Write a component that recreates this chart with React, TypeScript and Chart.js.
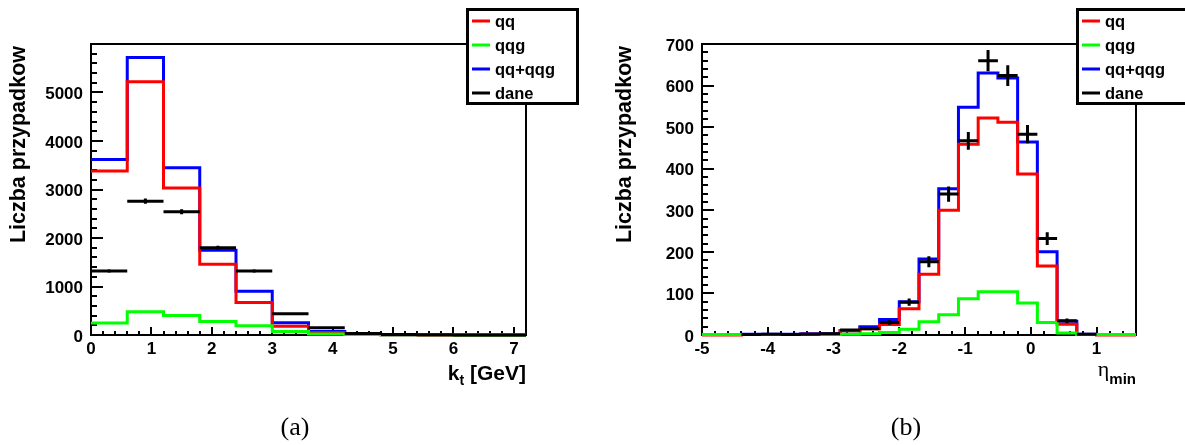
import React, { useEffect, useRef } from "react";
import { Chart, registerables } from "chart.js";
Chart.register(...registerables);

// ---------- data: panel (a) k_t ----------
const ktEdges = [0, 0.6, 1.2, 1.8, 2.4, 3.0, 3.6, 4.2, 4.8, 5.4, 6.0, 6.6, 7.2];
const ktQQ = [3380, 5220, 3030, 1460, 670, 180, 50, 8, 3, 1, 1, 0];
const ktQQG = [245, 480, 400, 280, 190, 70, 20, 10, 5, 3, 2, 1];
const ktSum = [3620, 5720, 3450, 1750, 900, 255, 70, 18, 6, 3, 2, 1];
const ktDane = [1320, 2760, 2540, 1800, 1320, 440, 150, 30, 10, 4, 2, 1];
const ktXTicks = [0, 1, 2, 3, 4, 5, 6, 7];
const ktYTicks = [0, 1000, 2000, 3000, 4000, 5000];

// ---------- data: panel (b) eta_min ----------
const etaEdges = [-5.0, -4.7, -4.4, -4.1, -3.8, -3.5, -3.2, -2.9, -2.6, -2.3, -2.0, -1.7, -1.4, -1.1, -0.8, -0.5, -0.2, 0.1, 0.4, 0.7, 1.0, 1.3, 1.6];
const etaQQ = [0, 0, 1, 1, 1, 2, 2, 10, 15, 25, 63, 146, 300, 459, 522, 512, 387, 166, 26, 1, 0, 0];
const etaQQG = [1, 1, 1, 1, 1, 1, 1, 2, 3, 6, 14, 32, 49, 87, 104, 104, 77, 30, 5, 1, 1, 1];
const etaSum = [1, 1, 2, 2, 2, 3, 3, 10, 20, 37, 80, 183, 352, 548, 630, 618, 464, 200, 33, 2, 1, 1];
const etaDane = [0, 0, 1, 2, 1, 2, 3, 12, 15, 30, 79, 176, 339, 467, 660, 624, 483, 232, 34, 2, 0, 0];
const etaXTicks = [-5, -4, -3, -2, -1, 0, 1];
const etaYTicks = [0, 100, 200, 300, 400, 500, 600, 700];

const legendLabels = ["qq", "qqg", "qq+qqg", "dane"];
const COLORS = { qq: "#ff0000", qqg: "#00ff00", sum: "#0000ff", dane: "#000000" };

const SANS = '"Liberation Sans", Arial, Helvetica, sans-serif';
const H = 445;

function stepData(edges: number[], vals: number[]) {
  const pts: { x: number; y: number | null }[] = vals.map((v, i) => ({ x: edges[i], y: v }));
  pts.push({ x: edges[edges.length - 1], y: vals[vals.length - 1] });
  return pts;
}

function dataPoints(edges: number[], vals: number[]) {
  const pts: { x: number; y: number | null }[] = [];
  vals.forEach((v, i) => {
    if (v <= 0) return;
    const c = (edges[i] + edges[i + 1]) / 2;
    const e = Math.sqrt(v);
    pts.push({ x: edges[i], y: v }, { x: edges[i + 1], y: v }, { x: c, y: null });
    pts.push({ x: c, y: v - e }, { x: c, y: v + e }, { x: c, y: null });
  });
  return pts;
}

type Part = { t: string; font: string; dy: number };

interface PanelCfg {
  width: number;
  frame: { l: number; t: number; r: number; b: number };
  edges: number[];
  qq: number[];
  qqg: number[];
  sum: number[];
  dane: number[];
  xMin: number;
  xMax: number;
  yMax: number;
  xMajor: number;
  xMinor: number;
  yMajor: number;
  yMinor: number;
  xTicks: number[];
  yTicks: number[];
  legend: { l: number; t: number; r: number; b: number };
  yTitleX: number;
  xTitle: Part[];
  caption: string;
  captionX: number;
}

function isMajor(v: number, step: number) {
  const r = v / step;
  return Math.abs(r - Math.round(r)) < 1e-6;
}

function makePlugin(cfg: PanelCfg) {
  return {
    id: "rootFrame",
    beforeDatasetsDraw(chart: any) {
      const ctx = chart.ctx as CanvasRenderingContext2D;
      const a = chart.chartArea;
      const xs = chart.scales.x;
      const ys = chart.scales.y;
      ctx.save();
      ctx.strokeStyle = "#000";
      ctx.lineWidth = 2;
      ctx.strokeRect(a.left, a.top, a.right - a.left, a.bottom - a.top);
      // y ticks
      const ny = Math.round(cfg.yMax / cfg.yMinor);
      for (let k = 0; k < ny; k++) {
        const v = k * cfg.yMinor;
        const py = Math.round(ys.getPixelForValue(v));
        const len = isMajor(v, cfg.yMajor) ? 12 : 6;
        ctx.beginPath();
        ctx.moveTo(a.left, py);
        ctx.lineTo(a.left + len, py);
        ctx.stroke();
      }
      // x ticks
      const nx = Math.round((cfg.xMax - cfg.xMin) / cfg.xMinor);
      for (let k = 1; k < nx; k++) {
        const v = cfg.xMin + k * cfg.xMinor;
        const px = Math.round(xs.getPixelForValue(v));
        const len = isMajor(v, cfg.xMajor) ? 8 : 4;
        ctx.beginPath();
        ctx.moveTo(px, a.bottom);
        ctx.lineTo(px, a.bottom - len);
        ctx.stroke();
      }
      // tick labels
      ctx.fillStyle = "#000";
      ctx.font = `bold 17px ${SANS}`;
      ctx.textAlign = "right";
      ctx.textBaseline = "middle";
      cfg.yTicks.forEach((v) => {
        ctx.fillText(String(v), a.left - 8, ys.getPixelForValue(v) + 2);
      });
      ctx.textAlign = "center";
      ctx.textBaseline = "top";
      cfg.xTicks.forEach((v) => {
        ctx.fillText(String(v), xs.getPixelForValue(v), a.bottom + 6);
      });
      ctx.restore();
    },
    afterDraw(chart: any) {
      const ctx = chart.ctx as CanvasRenderingContext2D;
      const a = chart.chartArea;
      ctx.save();
      // y title
      ctx.translate(cfg.yTitleX, a.top + 2);
      ctx.rotate(-Math.PI / 2);
      ctx.font = `bold 21.5px ${SANS}`;
      ctx.textAlign = "right";
      ctx.textBaseline = "middle";
      ctx.fillStyle = "#000";
      ctx.fillText("Liczba przypadkow", 0, 0);
      ctx.restore();

      // x title (right aligned to frame)
      ctx.save();
      ctx.fillStyle = "#000";
      ctx.textBaseline = "alphabetic";
      ctx.textAlign = "left";
      let total = 0;
      cfg.xTitle.forEach((p) => {
        ctx.font = p.font;
        total += ctx.measureText(p.t).width;
      });
      let x = a.right - total;
      cfg.xTitle.forEach((p) => {
        ctx.font = p.font;
        ctx.fillText(p.t, x, 380 + p.dy);
        x += ctx.measureText(p.t).width;
      });
      ctx.restore();

      // legend
      const L = cfg.legend;
      ctx.save();
      ctx.fillStyle = "#fff";
      ctx.fillRect(L.l, L.t, L.r - L.l, L.b - L.t);
      ctx.strokeStyle = "#000";
      ctx.lineWidth = 3;
      ctx.strokeRect(L.l + 1.5, L.t + 1.5, L.r - L.l - 3, L.b - L.t - 3);
      const ds = chart.data.datasets;
      const byLabel: Record<string, any> = {};
      ds.forEach((d: any) => (byLabel[d.label] = d));
      ctx.font = `bold 16.5px ${SANS}`;
      ctx.textAlign = "left";
      ctx.textBaseline = "middle";
      legendLabels.forEach((lab, i) => {
        const y = L.t + 13 + i * 24;
        const d = byLabel[lab];
        ctx.strokeStyle = d.borderColor;
        ctx.lineWidth = 3;
        ctx.beginPath();
        ctx.moveTo(L.l + 6, y);
        ctx.lineTo(L.l + 24, y);
        ctx.stroke();
        ctx.fillStyle = "#000";
        ctx.fillText(lab, L.l + 29, y + 1);
      });
      ctx.restore();

      // caption
      ctx.save();
      ctx.fillStyle = "#000";
      ctx.font = `26px "Liberation Serif", "DejaVu Serif", serif`;
      ctx.textAlign = "center";
      ctx.textBaseline = "alphabetic";
      ctx.fillText(cfg.caption, cfg.captionX, 435);
      ctx.restore();
    },
  };
}

function Panel({ cfg, left }: { cfg: PanelCfg; left: number }) {
  const ref = useRef<HTMLCanvasElement | null>(null);
  useEffect(() => {
    const canvas = ref.current;
    if (!canvas) return;
    const line = (label: string, color: string, vals: number[], order: number) => ({
      label,
      data: stepData(cfg.edges, vals),
      stepped: "before" as const,
      borderColor: color,
      backgroundColor: color,
      borderWidth: 3,
      pointRadius: 0,
      fill: false,
      tension: 0,
      clip: false,
      order,
      borderJoinStyle: "miter" as const,
    });
    const chart = new Chart(canvas, {
      type: "line",
      data: {
        datasets: [
          line("qq+qqg", COLORS.sum, cfg.sum, 3),
          line("qq", COLORS.qq, cfg.qq, 2),
          line("qqg", COLORS.qqg, cfg.qqg, 1),
          {
            label: "dane",
            data: dataPoints(cfg.edges, cfg.dane),
            borderColor: COLORS.dane,
            backgroundColor: COLORS.dane,
            borderWidth: 3,
            pointRadius: 0,
            fill: false,
            spanGaps: false,
            tension: 0,
            clip: false,
            order: 0,
          } as any,
        ],
      },
      options: {
        animation: false,
        responsive: false,
        devicePixelRatio: 1,
        layout: {
          padding: {
            left: cfg.frame.l,
            top: cfg.frame.t,
            right: cfg.width - cfg.frame.r,
            bottom: H - cfg.frame.b,
          },
        },
        scales: {
          x: { type: "linear", min: cfg.xMin, max: cfg.xMax, display: false },
          y: { type: "linear", min: 0, max: cfg.yMax, display: false },
        },
        plugins: { legend: { display: false }, tooltip: { enabled: false } },
        events: [],
      },
      plugins: [makePlugin(cfg)],
    } as any);
    return () => chart.destroy();
  }, [cfg]);
  return (
    <canvas
      ref={ref}
      width={cfg.width}
      height={H}
      style={{ position: "absolute", left, top: 0, width: cfg.width, height: H, display: "block" }}
    />
  );
}

const cfgA: PanelCfg = {
  width: 590,
  frame: { l: 91, t: 44, r: 526, b: 335 },
  edges: ktEdges,
  qq: ktQQ,
  qqg: ktQQG,
  sum: ktSum,
  dane: ktDane,
  xMin: 0,
  xMax: 7.2,
  yMax: 6000,
  xMajor: 1,
  xMinor: 0.2,
  yMajor: 1000,
  yMinor: 200,
  xTicks: ktXTicks,
  yTicks: ktYTicks,
  legend: { l: 466, t: 8, r: 579, b: 105 },
  yTitleX: 19,
  xTitle: [
    { t: "k", font: `bold 21px ${SANS}`, dy: 0 },
    { t: "t", font: `bold 14px ${SANS}`, dy: 5 },
    { t: " [GeV]", font: `bold 21px ${SANS}`, dy: 0 },
  ],
  caption: "(a)",
  captionX: 295,
};

const cfgB: PanelCfg = {
  width: 595,
  frame: { l: 112, t: 44, r: 546, b: 335 },
  edges: etaEdges,
  qq: etaQQ,
  qqg: etaQQG,
  sum: etaSum,
  dane: etaDane,
  xMin: -5,
  xMax: 1.6,
  yMax: 700,
  xMajor: 1,
  xMinor: 0.2,
  yMajor: 100,
  yMinor: 20,
  xTicks: etaXTicks,
  yTicks: etaYTicks,
  legend: { l: 486, t: 8, r: 598, b: 105 },
  yTitleX: 35,
  xTitle: [
    { t: "η", font: `22px "Liberation Serif", "DejaVu Serif", serif`, dy: -4 },
    { t: "min", font: `bold 15px ${SANS}`, dy: 4 },
  ],
  caption: "(b)",
  captionX: 316,
};

export default function App() {
  return (
    <div style={{ position: "absolute", left: 0, top: 0, width: 1185, height: H, background: "#fff", overflow: "hidden" }}>
      <Panel cfg={cfgA} left={0} />
      <Panel cfg={cfgB} left={590} />
    </div>
  );
}
